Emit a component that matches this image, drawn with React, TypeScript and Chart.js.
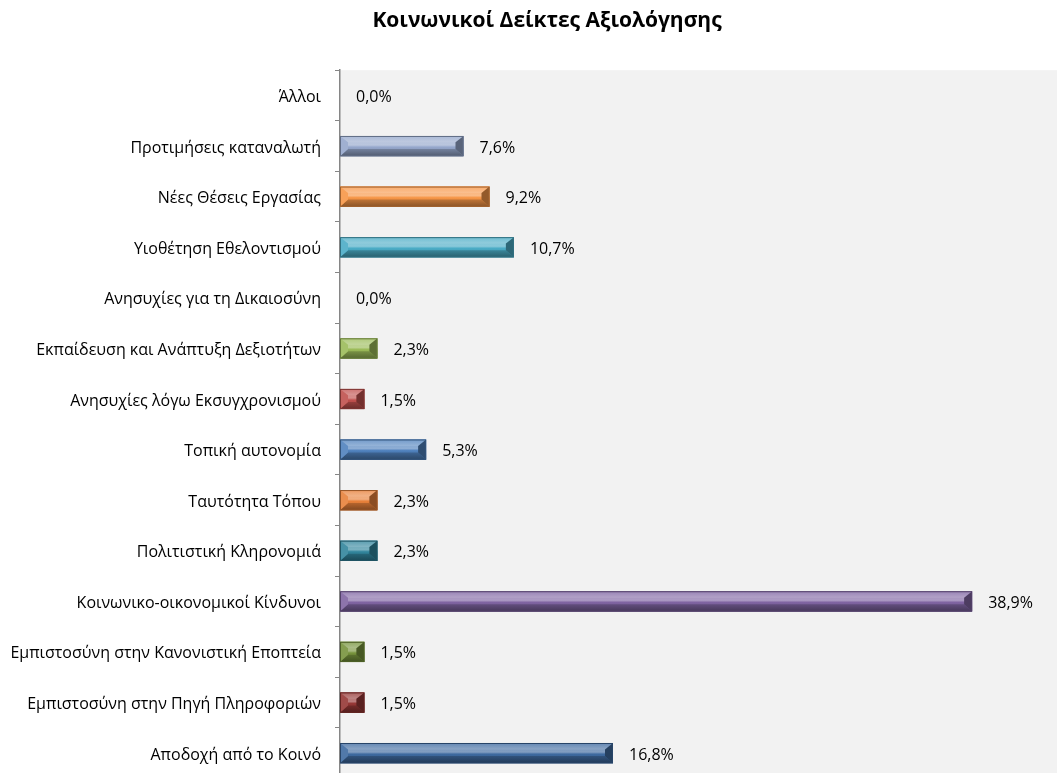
import React, { useEffect, useRef } from "react";
import { Chart, registerables } from "chart.js";

Chart.register(...registerables);

const chartTitle = "Κοινωνικοί Δείκτες Αξιολόγησης";

const categories = [
  "Άλλοι",
  "Προτιμήσεις καταναλωτή",
  "Νέες Θέσεις Εργασίας",
  "Υιοθέτηση Εθελοντισμού",
  "Ανησυχίες για τη Δικαιοσύνη",
  "Εκπαίδευση και Ανάπτυξη Δεξιοτήτων",
  "Ανησυχίες λόγω Εκσυγχρονισμού",
  "Τοπική αυτονομία",
  "Ταυτότητα Τόπου",
  "Πολιτιστική Κληρονομιά",
  "Κοινωνικο-οικονομικοί Κίνδυνοι",
  "Εμπιστοσύνη στην Κανονιστική Εποπτεία",
  "Εμπιστοσύνη στην Πηγή Πληροφοριών",
  "Αποδοχή από το Κοινό",
];

const values = [0, 7.6, 9.2, 10.7, 0, 2.3, 1.5, 5.3, 2.3, 2.3, 38.9, 1.5, 1.5, 16.8];

const valueLabels = values.map((v) => v.toFixed(1).replace(".", ",") + "%");

const barColors = [
  "#95a7cc",
  "#95a7cc",
  "#f79646",
  "#4bacc6",
  "#9bbb59",
  "#9bbb59",
  "#c0504d",
  "#4f81bd",
  "#e8813a",
  "#31859c",
  "#8064a2",
  "#77933c",
  "#953735",
  "#3e6aa0",
];

const FONT = "'Open Sans', 'Noto Sans', sans-serif";

function mix(hex: string, target: number, amt: number): string {
  const n = parseInt(hex.slice(1), 16);
  const r = (n >> 16) & 255;
  const g = (n >> 8) & 255;
  const b = n & 255;
  const f = (c: number) => Math.round(c + (target - c) * amt);
  return `rgb(${f(r)},${f(g)},${f(b)})`;
}

const plotBg = {
  id: "plotBg",
  beforeDraw(chart: any) {
    const { ctx, chartArea } = chart;
    ctx.save();
    ctx.fillStyle = "#f2f2f2";
    ctx.fillRect(chartArea.left, chartArea.top, chartArea.right - chartArea.left, chartArea.bottom - chartArea.top);
    ctx.restore();
  },
};

const bevelAndLabels = {
  id: "bevelAndLabels",
  afterDatasetsDraw(chart: any) {
    const { ctx } = chart;
    const meta = chart.getDatasetMeta(0);
    ctx.save();
    meta.data.forEach((el: any, i: number) => {
      const p = el.getProps(["x", "y", "base", "height"], true);
      const x0 = Math.min(p.base, p.x);
      const x1 = Math.max(p.base, p.x);
      const yt = p.y - p.height / 2;
      const yb = p.y + p.height / 2;
      const w = x1 - x0;
      const h = yb - yt;
      const col = barColors[i];
      if (w > 0.5) {
        const b = Math.min(8, w / 2, h / 2);
        const g = ctx.createLinearGradient(0, yt, 0, yb);
        g.addColorStop(0, mix(col, 255, 0.25));
        g.addColorStop(0.45, mix(col, 255, 0.35));
        g.addColorStop(0.55, col);
        g.addColorStop(1, mix(col, 0, 0.2));
        ctx.fillStyle = g;
        ctx.fillRect(x0, yt, w, h);
        // top bevel
        ctx.beginPath();
        ctx.moveTo(x0, yt);
        ctx.lineTo(x1, yt);
        ctx.lineTo(x1 - b, yt + b * 0.8);
        ctx.lineTo(x0 + b, yt + b * 0.8);
        ctx.closePath();
        const gt = ctx.createLinearGradient(0, yt, 0, yt + b);
        gt.addColorStop(0, mix(col, 255, 0.2));
        gt.addColorStop(1, mix(col, 255, 0.45));
        ctx.fillStyle = gt;
        ctx.fill();
        // bottom bevel
        ctx.beginPath();
        ctx.moveTo(x0, yb);
        ctx.lineTo(x1, yb);
        ctx.lineTo(x1 - b, yb - b * 0.9);
        ctx.lineTo(x0 + b, yb - b * 0.9);
        ctx.closePath();
        const gb = ctx.createLinearGradient(0, yb - b, 0, yb);
        gb.addColorStop(0, mix(col, 0, 0.2));
        gb.addColorStop(1, mix(col, 0, 0.45));
        ctx.fillStyle = gb;
        ctx.fill();
        // left bevel
        ctx.beginPath();
        ctx.moveTo(x0, yt);
        ctx.lineTo(x0 + b, yt + b * 0.8);
        ctx.lineTo(x0 + b, yb - b * 0.9);
        ctx.lineTo(x0, yb);
        ctx.closePath();
        ctx.fillStyle = mix(col, 255, 0.1);
        ctx.fill();
        // right bevel
        ctx.beginPath();
        ctx.moveTo(x1, yt);
        ctx.lineTo(x1 - b, yt + b * 0.8);
        ctx.lineTo(x1 - b, yb - b * 0.9);
        ctx.lineTo(x1, yb);
        ctx.closePath();
        ctx.fillStyle = mix(col, 0, 0.4);
        ctx.fill();
        ctx.strokeStyle = mix(col, 0, 0.35);
        ctx.lineWidth = 1;
        ctx.strokeRect(x0 + 0.5, yt + 0.5, w - 1, h - 1);
      }
      ctx.fillStyle = "#000000";
      ctx.font = `16px ${FONT}`;
      ctx.textAlign = "left";
      ctx.textBaseline = "middle";
      ctx.fillText(valueLabels[i], x1 + 16, p.y + 2);
    });
    ctx.restore();
  },
};

export default function App() {
  const ref = useRef<HTMLCanvasElement | null>(null);

  useEffect(() => {
    if (!ref.current) return;
    const chart = new Chart(ref.current, {
      type: "bar",
      data: {
        labels: categories,
        datasets: [
          {
            data: values,
            backgroundColor: barColors,
            borderWidth: 0,
            categoryPercentage: 1,
            barPercentage: 0.4,
          },
        ],
      },
      options: {
        indexAxis: "y",
        animation: false,
        responsive: false,
        maintainAspectRatio: false,
        layout: { padding: 0 },
        plugins: {
          legend: { display: false },
          tooltip: { enabled: false },
          title: {
            display: true,
            text: chartTitle,
            color: "#000000",
            font: { family: FONT, size: 21, weight: "bold" },
            padding: { top: 8, bottom: 37 },
          },
        },
        scales: {
          x: {
            display: false,
            min: 0,
            max: 46.4,
          },
          y: {
            afterFit: (s: any) => {
              s.width = 340;
            },
            grid: {
              display: true,
              drawOnChartArea: false,
              drawTicks: true,
              tickLength: 5,
              color: "#868686",
              offset: true,
            },
            border: { display: true, color: "#868686", width: 1.5 },
            ticks: {
              color: "#000000",
              padding: 14,
              labelOffset: 2,
              font: { family: FONT, size: 16 },
            },
          },
        },
      },
      plugins: [plotBg, bevelAndLabels],
    });
    return () => chart.destroy();
  }, []);

  return (
    <div style={{ position: "fixed", left: 0, top: 0, width: 1057, height: 773, overflow: "hidden", background: "#ffffff" }}>
      <canvas ref={ref} width={1094} height={802} style={{ width: 1094, height: 802, display: "block" }} />
    </div>
  );
}
